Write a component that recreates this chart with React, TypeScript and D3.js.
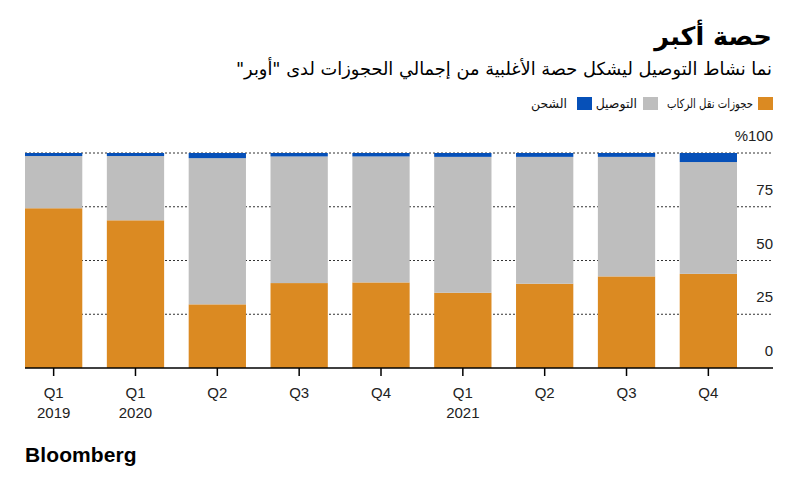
import React from "react";
import * as d3 from "d3";

const quarters = ["Q1", "Q1", "Q2", "Q3", "Q4", "Q1", "Q2", "Q3", "Q4"];
const years = ["2019", "2020", "", "", "", "2021", "", "", ""];
const rides = [74.3, 68.7, 29.6, 39.5, 39.8, 35.0, 39.2, 42.6, 43.8];
const delivery = [24.3, 29.9, 68.0, 58.9, 58.6, 63.2, 59.0, 55.6, 52.0];
const freight = [1.4, 1.4, 2.4, 1.6, 1.6, 1.8, 1.8, 1.8, 4.2];
const yTicks = [0, 25, 50, 75, 100];

const keys = ["rides", "delivery", "freight"];
const colors: Record<string, string> = {
  rides: "#db8a22",
  delivery: "#bebebe",
  freight: "#0650b8",
};
const legend = [
  { key: "rides", label: "حجوزات نقل الركاب" },
  { key: "delivery", label: "التوصيل" },
  { key: "freight", label: "الشحن" },
];

const arabic = "'DejaVu Sans', 'Noto Sans', sans-serif";
const latin = "'Liberation Sans', Arial, sans-serif";

export default function App() {
  const width = 800,
    height = 496;
  const left = 25,
    right = 773,
    top = 153,
    bottom = 368;

  const rows = quarters.map((q, i) => ({
    i: String(i),
    rides: rides[i],
    delivery: delivery[i],
    freight: freight[i],
  }));

  const x = d3
    .scaleBand()
    .domain(rows.map((d) => d.i))
    .range([left, 737])
    .paddingInner(0.3)
    .paddingOuter(0);
  const y = d3.scaleLinear().domain([0, 100]).range([bottom, top]);

  const series = d3.stack<any>().keys(keys)(rows);

  // legend, laid out right to left (square x, text right edge, text width)
  const legendPos = [
    [758, 753, 86],
    [643, 637, 0],
    [577, 567, 0],
  ];
  const legendItems = legend.map((l, k) => ({
    ...l,
    sx: legendPos[k][0],
    tx: legendPos[k][1],
    tl: legendPos[k][2],
  }));

  return (
    <svg
      width={width}
      height={height}
      style={{ position: "absolute", left: 0, top: 0, background: "#fff" }}
    >
      <text
        x={772}
        y={45}
        direction="rtl"
        textAnchor="start"
        fontFamily={arabic}
        fontWeight="bold"
        fontSize={25.5}
        fill="#000"
      >
        حصة أكبر
      </text>
      <text
        x={772}
        y={75}
        direction="rtl"
        textAnchor="start"
        fontFamily={arabic}
        fontSize={17.8}
        fill="#000"
      >
        نما نشاط التوصيل ليشكل حصة الأغلبية من إجمالي الحجوزات لدى "أوبر"
      </text>

      {legendItems.map((l) => (
        <g key={l.key}>
          <rect x={l.sx} y={97} width={15} height={13} fill={colors[l.key]} />
          <text
            x={l.tx}
            y={108}
            direction="rtl"
            textAnchor="start"
            fontFamily={arabic}
            fontSize={12.5}
            fill="#111"
            {...(l.tl ? { textLength: l.tl, lengthAdjust: "spacingAndGlyphs" } : {})}
          >
            {l.label}
          </text>
        </g>
      ))}

      {yTicks
        .filter((t) => t > 0)
        .map((t) => (
          <line
            key={t}
            x1={left}
            x2={right}
            y1={y(t)}
            y2={y(t)}
            stroke="#333"
            strokeWidth={1}
            strokeDasharray="2,2"
          />
        ))}

      {series.map((s) => (
        <g key={s.key} fill={colors[s.key]}>
          {s.map((d: any) => (
            <rect
              key={d.data.i}
              x={x(d.data.i)}
              y={y(d[1])}
              width={x.bandwidth()}
              height={y(d[0]) - y(d[1])}
            />
          ))}
        </g>
      ))}

      {yTicks.map((t) => (
        <text
          key={t}
          x={right}
          y={y(t) - 12}
          textAnchor="end"
          fontFamily={latin}
          fontSize={15}
          fill="#222"
        >
          {t === 100 ? "%100" : t}
        </text>
      ))}

      <line x1={left} x2={right} y1={bottom} y2={bottom} stroke="#000" strokeWidth={1.5} />

      {rows.map((d, i) => {
        const cx = (x(d.i) as number) + x.bandwidth() / 2;
        return (
          <g key={d.i}>
            <line x1={cx} x2={cx} y1={bottom} y2={bottom + 8} stroke="#000" strokeWidth={1.5} />
            <text
              x={cx}
              y={398}
              textAnchor="middle"
              fontFamily={latin}
              fontSize={15}
              fill="#222"
            >
              {quarters[i]}
            </text>
            {years[i] && (
              <text
                x={cx}
                y={418}
                textAnchor="middle"
                fontFamily={latin}
                fontSize={15}
                fill="#222"
              >
                {years[i]}
              </text>
            )}
          </g>
        );
      })}

      <text
        x={25}
        y={462}
        fontFamily={latin}
        fontWeight="bold"
        fontSize={21}
        letterSpacing={0.1}
        fill="#000"
      >
        Bloomberg
      </text>
    </svg>
  );
}
